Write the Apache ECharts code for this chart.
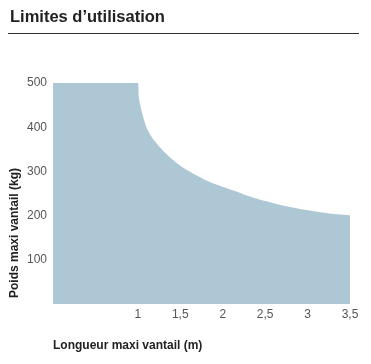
<!DOCTYPE html>
<html>
<head>
<meta charset="utf-8">
<script src="https://cdn.jsdelivr.net/npm/echarts@6/dist/echarts.min.js"></script>
<style>html,body{margin:0;padding:0;background:#fff;}#c{width:371px;height:364px;}</style>
</head>
<body>
<div id="c"></div>
<script>
var titleText = "Limites d\u2019utilisation";
var xName = "Longueur maxi vantail (m)";
var yName = "Poids maxi vantail (kg)";
var lengths = [0, 1, 1.01, 1.02, 1.04, 1.07, 1.1, 1.15, 1.2, 1.3, 1.4, 1.5, 1.6, 1.7, 1.8, 1.9, 2, 2.25, 2.5, 2.75, 3, 3.25, 3.5];
var weights = [500, 500, 470, 458, 440, 418, 400, 382, 368, 346, 328, 313, 301, 290, 280, 272, 265, 248, 233, 221, 212, 205, 201];
var xTicks = [1, 1.5, 2, 2.5, 3, 3.5];
var yTicks = [100, 200, 300, 400, 500];

var chart = echarts.init(document.getElementById('c'), null, {renderer: 'canvas'});
var font = 'Liberation Sans, Arial, Helvetica, sans-serif';
chart.setOption({
  animation: false,
  textStyle: {fontFamily: font},
  grid: {left: 53, right: 21, top: 83, bottom: 60},
  xAxis: {
    type: 'value', min: 0, max: 3.5, interval: 0.5,
    axisLine: {show: false}, axisTick: {show: false}, splitLine: {show: false},
    axisLabel: {
      color: '#555', fontSize: 12, margin: 5, fontFamily: font,
      formatter: function (v) { return xTicks.indexOf(v) >= 0 ? String(v).replace('.', ',') : ''; }
    }
  },
  yAxis: {
    type: 'value', min: 0, max: 500, interval: 100,
    axisLine: {show: false}, axisTick: {show: false}, splitLine: {show: false},
    axisLabel: {
      color: '#555', fontSize: 12, margin: 6, fontFamily: font,
      formatter: function (v) { return yTicks.indexOf(v) >= 0 ? String(v) : ''; }
    }
  },
  series: [{
    type: 'line',
    data: lengths.map(function (x, i) { return [x, weights[i]]; }),
    smooth: 0.25,
    symbol: 'none',
    lineStyle: {width: 0, color: '#adc7d5'},
    areaStyle: {color: '#adc7d5', opacity: 1}
  }],
  graphic: [
    {type: 'text', left: 10, top: 9, style: {text: titleText, font: 'bold 16.5px ' + font, fill: '#222'}},
    {type: 'line', shape: {x1: 8, y1: 33.5, x2: 359, y2: 33.5}, style: {stroke: '#333', lineWidth: 1.2}},
    {type: 'text', x: 15, y: 233, rotation: Math.PI / 2,
     style: {text: yName, font: 'bold 12px ' + font, fill: '#222', align: 'center', verticalAlign: 'middle'}},
    {type: 'text', x: 53, y: 346,
     style: {text: xName, font: 'bold 12px ' + font, fill: '#222', align: 'left', verticalAlign: 'middle'}}
  ]
});
</script>
</body>
</html>
